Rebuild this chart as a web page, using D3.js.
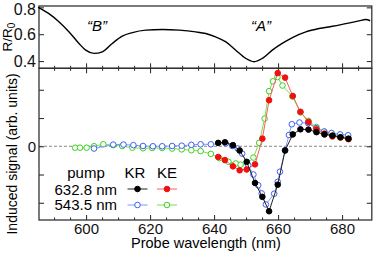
<!DOCTYPE html>
<html>
<head>
<meta charset="utf-8">
<script src="https://cdn.jsdelivr.net/npm/d3@7"></script>
<style>
  body { margin: 0; background: #fff; }
  svg text { font-family: "Liberation Sans", Arial, Helvetica, sans-serif; }
</style>
</head>
<body>
<div id="chart"></div>
<script>
// reflectance spectrum (top panel)
var reflWl  = [585, 588.4, 591.6, 594.7, 597.8, 599.9, 602.5, 605.1, 608.2, 611.3, 614.5, 618.7, 623.8, 629.1, 634.3, 637.4, 640.5, 643.7, 646.8, 649.9, 652.5, 655.1, 658.2, 661.3, 664.5, 668.7, 672.8, 677, 681.2, 685.3, 687.4, 688.8];
var reflVal = [0.80, 0.753, 0.691, 0.617, 0.531, 0.481, 0.457, 0.469, 0.531, 0.585, 0.612, 0.630, 0.635, 0.630, 0.617, 0.605, 0.580, 0.543, 0.481, 0.42, 0.395, 0.42, 0.481, 0.531, 0.575, 0.617, 0.642, 0.659, 0.679, 0.699, 0.709, 0.70];

// pump 632.8 nm
var wl632 = [641.3, 643.4, 645.9, 648.0, 650.2, 652.8, 655.1, 657.2, 659.9, 662.2, 664.6, 667.0, 669.5, 672.0, 674.5, 677.0, 679.5, 682.0];
var kr632 = [0.12, 0.14, 0.04, -0.15, -0.55, -1.3, -1.79, -2.3, -1.36, -0.15, 0.42, 0.6, 0.59, 0.5, 0.42, 0.38, 0.32, 0.27];
var ke632 = [-0.38, -0.49, -0.71, -0.85, -0.82, -0.64, 0.27, 1.63, 2.59, 2.43, 1.78, 1.22, 0.86, 0.6, 0.45, 0.35, 0.31, 0.25];

// pump 543.5 nm
var wlKr543 = [602.5, 608.5, 611.7, 614.8, 617.8, 620.9, 623.8, 626.9, 629.9, 632.9, 635.8, 639, 643.7, 645.7, 647.4, 648.8, 650.7, 652.3, 653.8, 654.9, 656.2, 658.8, 659.9, 660.6, 662.2, 663.4, 664.3, 666.7, 669.4, 671.9, 674.4, 676.7, 679.4, 681.9];
var kr543   = [-0.08, 0.06, 0.06, 0.04, 0.01, 0, 0, 0.01, 0.02, 0.05, 0.07, 0.07, 0.1, 0.01, -0.08, -0.26, -0.67, -1.0, -1.38, -1.67, -2.06, -1.68, -1.26, -0.9, -0.14, 0.4, 0.78, 0.84, 0.82, 0.64, 0.52, 0.47, 0.42, 0.39];
var wlKe543 = [596.6, 598.1, 600.2, 602.5, 605.4, 608.5, 611.3, 614.5, 617.8, 620.7, 623.8, 626.9, 629.9, 632.9, 635.8, 639, 641.7, 644.5, 646.8, 648.3, 650.4, 652.3, 654.1, 655.8, 657.2, 658.4, 659.8, 661.4, 664.5, 667, 669.5, 672, 674.5, 677, 679.5, 682];
var ke543   = [-0.05, -0.05, -0.05, 0, 0.07, 0.04, 0.01, -0.05, -0.07, -0.06, -0.06, -0.08, -0.11, -0.14, -0.17, -0.27, -0.42, -0.55, -0.61, -0.65, -0.61, -0.4, 0.12, 0.98, 1.95, 2.3, 2.45, 2.15, 1.76, 1.2, 0.9, 0.68, 0.52, 0.42, 0.36, 0.3];

var xTicks = [600, 620, 640, 660, 680];
var topTicks = [0.4, 0.6, 0.8];
var botTicks = [-2, -1, 0, 1, 2];

var width = 374, height = 253;
var left = 39, right = 371.8;
var topY0 = 6, midY = 68.3, botY1 = 220;

var svg = d3.select('#chart')
  .append('svg')
  .attr('width', width)
  .attr('height', height);

var x = d3.scaleLinear().domain([585.3, 689.3]).range([left, right]);
var yTop = d3.scaleLinear().domain([0.346, 0.81]).range([midY, topY0]);
var yBot = d3.scaleLinear().domain([-2.61, 2.76]).range([botY1, midY]);

var axisColor = '#333';

// zero line
svg.append('line')
  .attr('x1', left).attr('x2', right)
  .attr('y1', yBot(0)).attr('y2', yBot(0))
  .attr('stroke', '#888')
  .attr('stroke-width', 1)
  .attr('stroke-dasharray', '3,2');

// axes, ticks inward
function fmt(d) { return d3.format('.1f')(d); }

var gTopL = svg.append('g').attr('transform', 'translate(' + left + ',0)')
  .call(d3.axisLeft(yTop).tickValues(topTicks).tickSizeInner(-5).tickSizeOuter(0).tickPadding(3).tickFormat(fmt));
var gTopR = svg.append('g').attr('transform', 'translate(' + right + ',0)')
  .call(d3.axisRight(yTop).tickValues(topTicks).tickSizeInner(-5).tickSizeOuter(0).tickFormat(''));

var gBotL = svg.append('g').attr('transform', 'translate(' + left + ',0)')
  .call(d3.axisLeft(yBot).tickValues(botTicks).tickSizeInner(-5).tickSizeOuter(0).tickPadding(3)
    .tickFormat(d => (d === 0 ? '0' : '')));
var gBotR = svg.append('g').attr('transform', 'translate(' + right + ',0)')
  .call(d3.axisRight(yBot).tickValues(botTicks).tickSizeInner(-5).tickSizeOuter(0).tickFormat(''));

var minorX = d3.range(590, 690, 5).filter(d => d % 20 !== 0);

// bottom axis
var gX = svg.append('g').attr('transform', 'translate(0,' + botY1 + ')')
  .call(d3.axisBottom(x).tickValues(xTicks).tickSizeInner(-5).tickSizeOuter(0).tickPadding(3).tickFormat(d3.format('d')));
svg.append('g').attr('transform', 'translate(0,' + botY1 + ')')
  .call(d3.axisBottom(x).tickValues(minorX).tickSizeInner(-2.5).tickSizeOuter(0).tickFormat(''));

// shared middle axis: ticks both ways
[5, -5].forEach(function(s) {
  svg.append('g').attr('transform', 'translate(0,' + midY + ')')
    .call(d3.axisBottom(x).tickValues(xTicks).tickSizeInner(s).tickSizeOuter(0).tickFormat(''));
  svg.append('g').attr('transform', 'translate(0,' + midY + ')')
    .call(d3.axisBottom(x).tickValues(minorX).tickSizeInner(s / 2).tickSizeOuter(0).tickFormat(''));
});

svg.selectAll('.domain').attr('stroke', 'none');
svg.selectAll('.tick line').attr('stroke', axisColor).attr('stroke-width', 1.1);
svg.selectAll('.tick text').attr('font-size', 15).attr('fill', '#111');
gTopL.selectAll('.tick text').attr('font-size', 16);
// keep the top label inside the window
gTopL.selectAll('.tick text').filter(d => d === 0.8).attr('dy', '0.42em');

// frames
svg.append('rect')
  .attr('x', left).attr('y', topY0)
  .attr('width', right - left).attr('height', midY - topY0)
  .attr('fill', 'none').attr('stroke', axisColor).attr('stroke-width', 1.3);
svg.append('rect')
  .attr('x', left).attr('y', midY)
  .attr('width', right - left).attr('height', botY1 - midY)
  .attr('fill', 'none').attr('stroke', axisColor).attr('stroke-width', 1.3);

// reflectance curve
var reflLine = d3.line().curve(d3.curveMonotoneX)
  .x((d, i) => x(reflWl[i]))
  .y(d => yTop(d));
svg.append('path')
  .attr('d', reflLine(reflVal))
  .attr('fill', 'none')
  .attr('stroke', '#000')
  .attr('stroke-width', 1.4);

svg.append('text').attr('x', 97).attr('y', 31).attr('text-anchor', 'middle')
  .attr('font-size', 15).attr('font-style', 'italic').text('\u201cB\u201d');
svg.append('text').attr('x', 261).attr('y', 31).attr('text-anchor', 'middle')
  .attr('font-size', 15).attr('font-style', 'italic').text('\u201cA\u201d');

// data series
var series = [
  { wl: wlKe543, v: ke543, line: '#7be04a', mark: '#3ad020', fill: '#fff' },
  { wl: wlKr543, v: kr543, line: '#7d9cf5', mark: '#3d5ef5', fill: '#fff' },
  { wl: wl632,  v: ke632, line: '#f56060', mark: '#f01010', fill: '#f01010' },
  { wl: wl632,  v: kr632, line: '#222', mark: '#000', fill: '#000' }
];

series.forEach(function(s) {
  var line = d3.line().x((d, i) => x(s.wl[i])).y(d => yBot(d));
  svg.append('path')
    .attr('d', line(s.v))
    .attr('fill', 'none')
    .attr('stroke', s.line)
    .attr('stroke-width', 1);
  svg.append('g').selectAll('circle')
    .data(s.v)
    .enter()
    .append('circle')
    .attr('cx', (d, i) => x(s.wl[i]))
    .attr('cy', d => yBot(d))
    .attr('r', 2.8)
    .attr('fill', s.fill)
    .attr('stroke', s.mark)
    .attr('stroke-width', 1);
});

// legend
var leg = svg.append('g');
leg.append('text').attr('x', 86).attr('y', 178).attr('text-anchor', 'middle').attr('font-size', 15).text('pump');
leg.append('text').attr('x', 135).attr('y', 178).attr('text-anchor', 'middle').attr('font-size', 15).text('KR');
leg.append('text').attr('x', 167).attr('y', 178).attr('text-anchor', 'middle').attr('font-size', 15).text('KE');
leg.append('text').attr('x', 117).attr('y', 194.5).attr('text-anchor', 'end').attr('font-size', 15).text('632.8 nm');
leg.append('text').attr('x', 117).attr('y', 210).attr('text-anchor', 'end').attr('font-size', 15).text('543.5 nm');

var legItems = [
  { cx: 137.5, cy: 189, line: '#222', mark: '#000', fill: '#000' },
  { cx: 167, cy: 189, line: '#f56060', mark: '#f01010', fill: '#f01010' },
  { cx: 137.5, cy: 205, line: '#7d9cf5', mark: '#3d5ef5', fill: '#fff' },
  { cx: 167, cy: 205, line: '#7be04a', mark: '#3ad020', fill: '#fff' }
];
legItems.forEach(function(l) {
  leg.append('line').attr('x1', l.cx - 10).attr('x2', l.cx + 10)
    .attr('y1', l.cy).attr('y2', l.cy).attr('stroke', l.line).attr('stroke-width', 1);
  leg.append('circle').attr('cx', l.cx).attr('cy', l.cy).attr('r', 2.8)
    .attr('fill', l.fill).attr('stroke', l.mark).attr('stroke-width', 1);
});

// axis titles
svg.append('text')
  .attr('transform', 'translate(12,' + 37 + ') rotate(-90)')
  .attr('text-anchor', 'middle')
  .attr('font-size', 13.5)
  .html('R/R<tspan font-size="10" dy="3">0</tspan>');
svg.append('text')
  .attr('transform', 'translate(17,' + 154 + ') rotate(-90)')
  .attr('text-anchor', 'middle')
  .attr('font-size', 14)
  .text('Induced signal (arb. units)');
svg.append('text')
  .attr('x', 206).attr('y', 248)
  .attr('text-anchor', 'middle')
  .attr('font-size', 14.5)
  .text('Probe wavelength (nm)');
</script>
</body>
</html>
